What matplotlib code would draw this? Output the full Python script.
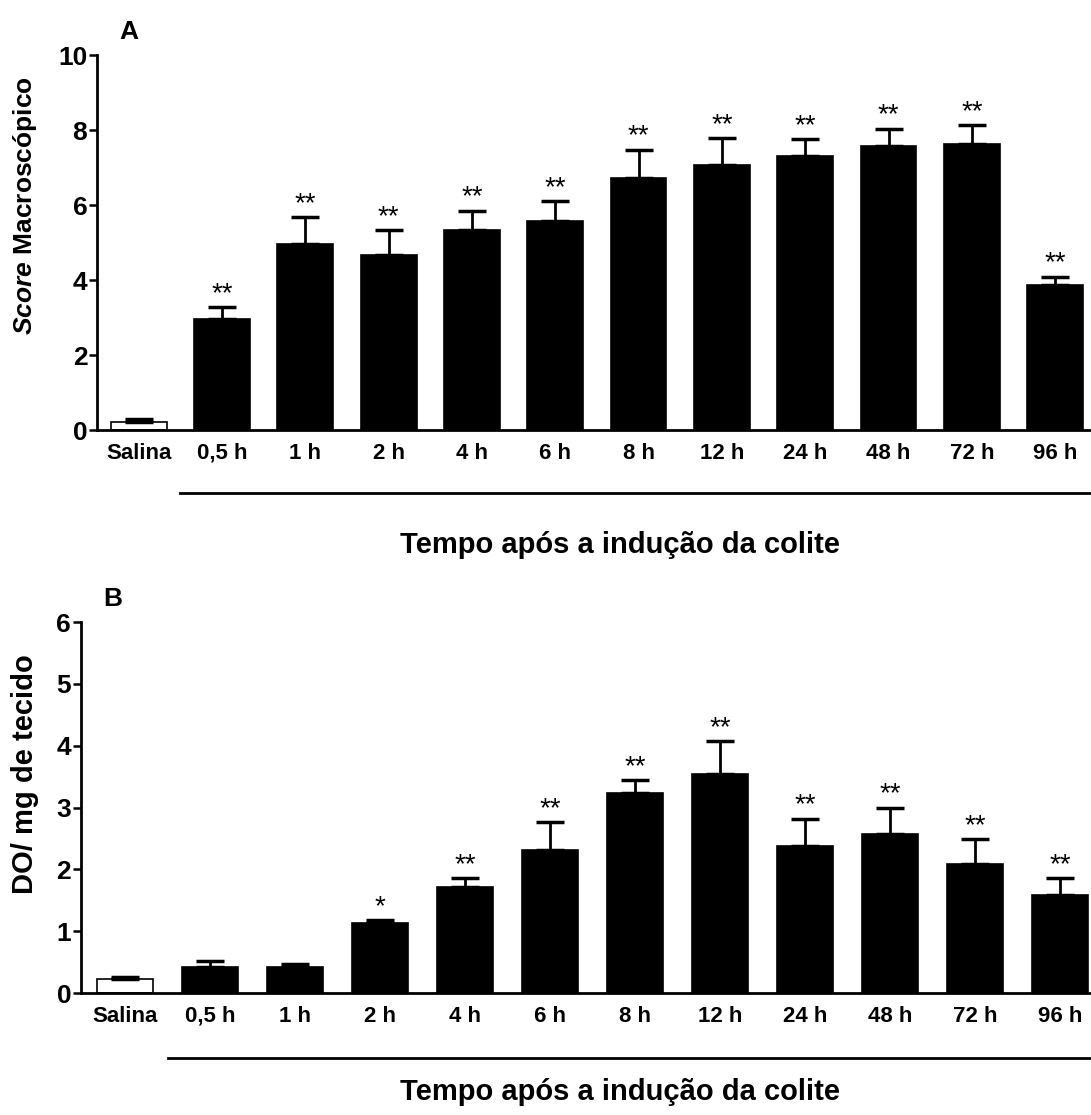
import matplotlib
matplotlib.use("Agg")
from matplotlib import pyplot as plt
from matplotlib import transforms
import numpy as np

plt.rcParams['font.family'] = ['Liberation Sans', 'DejaVu Sans']
plt.rcParams['font.weight'] = 'bold'
plt.rcParams['axes.labelweight'] = 'bold'
plt.rcParams['mathtext.fontset'] = 'custom'
plt.rcParams['mathtext.it'] = 'Liberation Sans:italic:bold'
plt.rcParams['mathtext.bfit'] = 'Liberation Sans:italic:bold'
plt.rcParams['mathtext.rm'] = 'Liberation Sans:bold'

labels = ['Salina', '0,5 h', '1 h', '2 h', '4 h', '6 h', '8 h', '12 h', '24 h', '48 h', '72 h', '96 h']

# panel A - macroscopic score
score_mean = [0.22, 2.95, 4.95, 4.67, 5.33, 5.58, 6.72, 7.07, 7.30, 7.58, 7.62, 3.88]
score_err = [0.08, 0.33, 0.72, 0.67, 0.52, 0.53, 0.76, 0.72, 0.46, 0.46, 0.51, 0.21]
score_sig = ['', '**', '**', '**', '**', '**', '**', '**', '**', '**', '**', '**']

# panel B - DO / mg tecido
do_mean = [0.23, 0.42, 0.42, 1.14, 1.71, 2.31, 3.24, 3.54, 2.38, 2.57, 2.09, 1.59]
do_err = [0.03, 0.10, 0.05, 0.04, 0.15, 0.45, 0.21, 0.54, 0.44, 0.43, 0.40, 0.27]
do_sig = ['', '', '', '*', '**', '**', '**', '**', '**', '**', '**', '**']

xlabel = 'Tempo após a indução da colite'


def panel(ax, mean, err, sig, ymax, yticks, ylabel, ylsize, letter, xlim, width):
    x = np.arange(len(labels))
    colors = ['white'] + ['black'] * (len(labels) - 1)
    ax.bar(x, mean, width=width, color=colors, edgecolor='black', linewidth=1.2, zorder=2)
    lower = np.zeros(len(err))
    ax.errorbar(x, mean, yerr=[lower, err], fmt='none', ecolor='black',
                elinewidth=2, capsize=10, capthick=2.5, zorder=3)
    for xi, m, e, s in zip(x, mean, err, sig):
        if s:
            ax.annotate(s, (xi, m + e), xytext=(0, 0), textcoords='offset points',
                        ha='center', va='bottom', fontsize=20, fontweight='normal')
    ax.set_xlim(*xlim)
    ax.set_ylim(0, ymax)
    ax.set_yticks(yticks)
    ax.set_xticks(x)
    ax.set_xticklabels(labels, fontsize=16)
    ax.tick_params(axis='x', length=0, pad=9)
    ax.tick_params(axis='y', length=6, width=1.8, labelsize=19, pad=1)
    for sp in ['top', 'right']:
        ax.spines[sp].set_visible(False)
    ax.spines['left'].set_linewidth(2)
    ax.spines['bottom'].set_linewidth(2)
    ax.set_ylabel(ylabel, fontsize=ylsize, fontweight='bold')
    ax.text(0.022, 1.03, letter, transform=ax.transAxes, fontsize=19, fontweight='bold',
            ha='left', va='bottom')


fig = plt.figure(figsize=(10.91, 11.15), dpi=100)

ax1 = fig.add_axes([0.0889, 0.6143, 0.9111, 0.3363])
panel(ax1, score_mean, score_err, score_sig, 10, [0, 2, 4, 6, 8, 10],
      r'$\mathbfit{Score}$ Macroscópico', 19, 'A', (-0.5, 11.43), 0.67)
ax1.yaxis.set_label_coords(-0.058, 0.6)

ax2 = fig.add_axes([0.0742, 0.1094, 0.9258, 0.3327])
panel(ax2, do_mean, do_err, do_sig, 6, [0, 1, 2, 3, 4, 5, 6],
      'DO/ mg de tecido', 21, 'B', (-0.52, 11.36), 0.66)
ax2.yaxis.set_label_coords(-0.042, 0.59)

# group lines under the time points
for ax, yl in [(ax1, -0.168), (ax2, -0.175)]:
    tr = transforms.blended_transform_factory(ax.transData, ax.transAxes)
    ax.plot([0.5, 12], [yl, yl], color='black', linewidth=2, transform=tr, clip_on=False)

fig.text(0.568, 1 - 545 / 1115, xlabel, ha='center', va='center', fontsize=21)
fig.text(0.568, 1 - 1092 / 1115, xlabel, ha='center', va='center', fontsize=21)

fig.savefig('out.png', dpi=100)
